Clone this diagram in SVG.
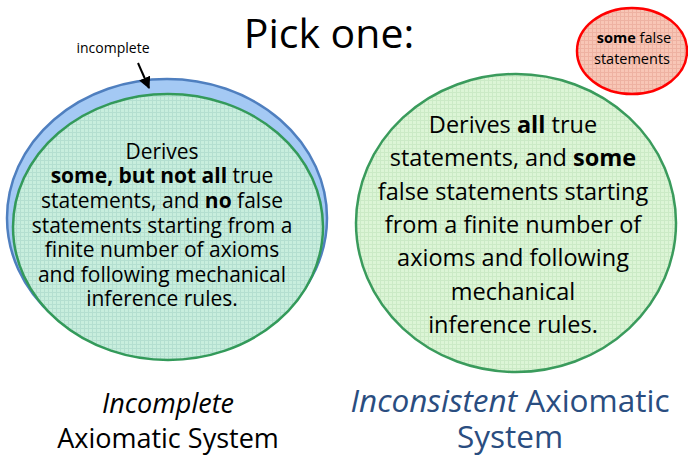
<svg xmlns="http://www.w3.org/2000/svg" width="688" height="456" viewBox="0 0 688 456">
<defs>
<pattern id="gGreen" width="4" height="4" patternUnits="userSpaceOnUse"><rect width="4" height="4" fill="#dcf5d6"/><path d="M0 0.5H4M0.5 0V4" stroke="#cbeac6" stroke-width="1"/></pattern>
<pattern id="gTeal" width="4" height="4" patternUnits="userSpaceOnUse"><rect width="4" height="4" fill="#c8eedd"/><path d="M0 0.5H4M0.5 0V4" stroke="#b4dfd0" stroke-width="1"/></pattern>
<pattern id="gRed" width="4" height="4" patternUnits="userSpaceOnUse"><rect width="4" height="4" fill="#f8c6b6"/><path d="M0 0.5H4M0.5 0V4" stroke="#eeb2a2" stroke-width="1"/></pattern>
<marker id="ah" viewBox="0 0 10 10" refX="9" refY="5" markerWidth="6" markerHeight="6" orient="auto"><path d="M0 0L10 5L0 10z" fill="#000"/></marker>
</defs>
<style>
text{font-family:"Open Sans","Liberation Sans",sans-serif;fill:#000;text-anchor:middle}
.b{font-weight:bold}
.lt{font-size:21px}
.rt{font-size:23.5px}
.blue{fill:#2a4d80}
</style>
<rect width="688" height="456" fill="#fff"/>
<text x="329" y="48" style="font-size:41px">Pick one:</text>

<g id="incomplete-system">
<ellipse cx="167" cy="218" rx="160" ry="139" fill="#a4c9f4" stroke="#4f7fbf" stroke-width="2.5"/>
<ellipse cx="168" cy="227" rx="155" ry="133" fill="url(#gTeal)" stroke="#339a5a" stroke-width="2.5"/>
<text class="lt" x="162" y="159">Derives</text>
<text class="lt" x="162" y="183"><tspan class="b">some, but not all</tspan> true</text>
<text class="lt" x="162" y="208">statements, and <tspan class="b">no</tspan> false</text>
<text class="lt" x="162" y="233">statements starting from a</text>
<text class="lt" x="162" y="257">finite number of axioms</text>
<text class="lt" x="162" y="282">and following mechanical</text>
<text class="lt" x="162" y="306">inference rules.</text>
</g>

<g id="incomplete-label">
<text x="113" y="53" style="font-size:14px">incomplete</text>
</g>

<g id="inconsistent-system">
<ellipse cx="516" cy="223" rx="160" ry="149" fill="url(#gGreen)" stroke="#3a9b5c" stroke-width="2.5"/>
<text class="rt" x="513" y="133">Derives <tspan class="b">all</tspan> true</text>
<text class="rt" x="513" y="166">statements, and <tspan class="b">some</tspan></text>
<text class="rt" x="513" y="200">false statements starting</text>
<text class="rt" x="513" y="233">from a finite number of</text>
<text class="rt" x="513" y="266">axioms and following</text>
<text class="rt" x="513" y="300">mechanical</text>
<text class="rt" x="513" y="333">inference rules.</text>
</g>

<g id="false-statements">
<ellipse cx="632" cy="51" rx="55" ry="43" fill="url(#gRed)" stroke="#ff0000" stroke-width="2.5"/>
<text x="634" y="43" style="font-size:14.5px"><tspan class="b">some</tspan> false</text>
<text x="632" y="64" style="font-size:14.5px">statements</text>
</g>

<g id="caption-incomplete">
<text x="168" y="413" style="font-size:27px;font-style:italic">Incomplete</text>
<text x="168" y="448" style="font-size:27px">Axiomatic System</text>
</g>

<g id="caption-inconsistent">
<text class="blue" x="510" y="412" style="font-size:31.5px"><tspan style="font-style:italic">Inconsistent</tspan> Axiomatic</text>
<text class="blue" x="510" y="448" style="font-size:31.5px">System</text>
</g>

<g id="connectors">
<line x1="138" y1="63" x2="149" y2="88" stroke="#000" stroke-width="2" marker-end="url(#ah)"/>
</g>
</svg>
